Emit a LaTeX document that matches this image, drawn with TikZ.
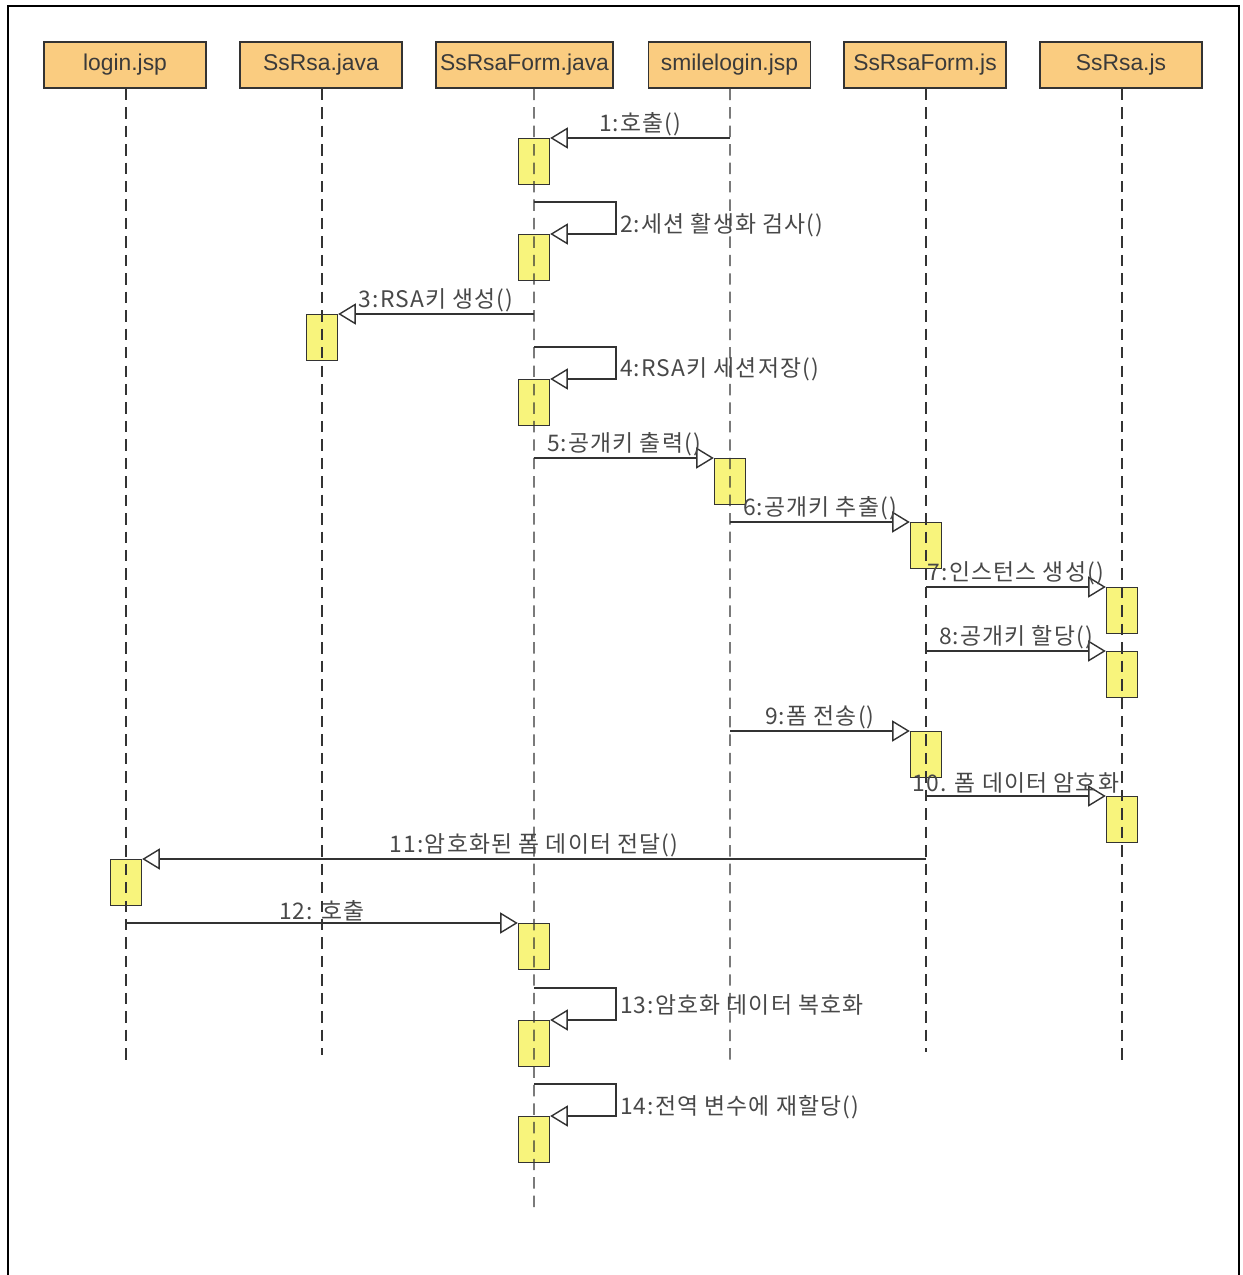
\documentclass[tikz,border=0pt]{standalone}
\usepackage{fontspec}
\setmainfont{Liberation Sans}
\newfontfamily\krfont[LetterSpace=5]{Noto Sans CJK KR}
\usetikzlibrary{arrows.meta,positioning}
\definecolor{headfill}{HTML}{FACC80}
\definecolor{actfill}{HTML}{F8F47C}
\definecolor{inkgray}{HTML}{333333}
\definecolor{textgray}{HTML}{3A3A3A}
\definecolor{lblgray}{HTML}{484848}
\tikzset{
	obj/.style={draw=inkgray,fill=headfill,line width=0.9pt,minimum width=3.24cm,minimum height=0.92cm,inner sep=0pt,font=\fontsize{13pt}{15pt}\selectfont,text=textgray},
	act/.style={draw=inkgray,fill=actfill,line width=0.8pt,minimum width=0.62cm,minimum height=0.92cm,inner sep=0pt,anchor=north},
	life/.style={draw=inkgray,line width=0.8pt,dash pattern=on 6.5pt off 4pt},
	msg/.style={draw=inkgray,line width=0.8pt,-{Triangle[length=10pt,width=12pt,fill=white]}},
	lbl/.style={font=\krfont\fontsize{13pt}{15pt}\selectfont,text=lblgray,inner sep=1pt}
}
\begin{document}
\begin{tikzpicture}[x=0.02cm,y=-0.02cm]
	\useasboundingbox (0,0) rectangle (1242,1275);
	\draw[line width=1.1pt] (8,1275) -- (8,6) -- (1239,6) -- (1239,1275);
	% objects
	\node[obj] (login) at (125,65) {login.jsp};
	\node[obj] (rsajava) at (321,65) {SsRsa.java};
	\node[obj,minimum width=3.54cm] (formjava) at (524.5,65) {SsRsaForm.java};
	\node[obj] (smile) at (729.5,65) {smilelogin.jsp};
	\node[obj] (formjs) at (925,65) {SsRsaForm.js};
	\node[obj] (rsajs) at (1121,65) {SsRsa.js};
	% activations
	\node[act] (a1) at (534,138) {};
	\node[act] (a2) at (534,234) {};
	\node[act] (a3) at (322,314) {};
	\node[act] (a4) at (534,379) {};
	\node[act] (a5) at (730,458) {};
	\node[act] (a6) at (926,522) {};
	\node[act] (a7) at (1122,587) {};
	\node[act] (a8) at (1122,651) {};
	\node[act] (a9) at (926,731) {};
	\node[act] (a10) at (1122,796) {};
	\node[act] (a11) at (126,859) {};
	\node[act] (a12) at (534,923) {};
	\node[act] (a13) at (534,1020) {};
	\node[act] (a14) at (534,1116) {};
	% lifelines
	\path
	(126,1062) coordinate (login-end)
	(322,1055) coordinate (rsajava-end)
	(534,1208) coordinate (formjava-end)
	(730,1062) coordinate (smile-end)
	(926,1052) coordinate (formjs-end)
	(1122,1062) coordinate (rsajs-end)
	;
	\draw[life] ([xshift=0.02cm]login.south) -- (login-end);
	\draw[life] ([xshift=0.02cm]rsajava.south) -- (rsajava-end);
	\draw[life] ([xshift=0.19cm]formjava.south) -- (formjava-end);
	\draw[life] ([xshift=0.01cm]smile.south) -- (smile-end);
	\draw[life] ([xshift=0.02cm]formjs.south) -- (formjs-end);
	\draw[life] ([xshift=0.02cm]rsajs.south) -- (rsajs-end);
	% message starts
	\path
	(730,138) coordinate (m1)
	(534,202) coordinate (m2)
	(534,314) coordinate (m3)
	(534,347) coordinate (m4)
	(534,458) coordinate (m5)
	(730,522) coordinate (m6)
	(926,587) coordinate (m7)
	(926,651) coordinate (m8)
	(730,731) coordinate (m9)
	(926,796) coordinate (m10)
	(926,859) coordinate (m11)
	(126,923) coordinate (m12)
	(534,988) coordinate (m13)
	(534,1084) coordinate (m14)
	;
	% messages
	\draw[msg] (m1) -- node[lbl,above] (l1) {1:호출()} (a1.north east);
	\draw[msg] (m2) -- ++(82,0) |- (a2.north east);
	\node[lbl,anchor=west] (l2) at (618,225) {2:세션 활생화 검사()};
	\draw[msg] (m3) -- node[lbl,above] (l3) {3:RSA키 생성()} (a3.north east);
	\draw[msg] (m4) -- ++(82,0) |- (a4.north east);
	\node[lbl,anchor=west] (l4) at (618,369) {4:RSA키 세션저장()};
	\draw[msg] (m5) -- node[lbl,above] (l5) {5:공개키 출력()} (a5.north west);
	\draw[msg] (m6) -- node[lbl,above] (l6) {6:공개키 추출()} (a6.north west);
	\draw[msg] (m7) -- node[lbl,above] (l7) {7:인스턴스 생성()} (a7.north west);
	\draw[msg] (m8) -- node[lbl,above] (l8) {8:공개키 할당()} (a8.north west);
	\draw[msg] (m9) -- node[lbl,above] (l9) {9:폼 전송()} (a9.north west);
	\draw[msg] (m10) -- node[lbl,above] (l10) {10. 폼 데이터 암호화} (a10.north west);
	\draw[msg] (m11) -- node[lbl,above] (l11) {11:암호화된 폼 데이터 전달()} (a11.north east);
	\draw[msg] (m12) -- node[lbl,above] (l12) {12: 호출} (a12.north west);
	\draw[msg] (m13) -- ++(82,0) |- (a13.north east);
	\node[lbl,anchor=west] (l13) at (618,1005) {13:암호화 데이터 복호화};
	\draw[msg] (m14) -- ++(82,0) |- (a14.north east);
	\node[lbl,anchor=west] (l14) at (618,1107) {14:전역 변수에 재할당()};
\end{tikzpicture}
\end{document}
